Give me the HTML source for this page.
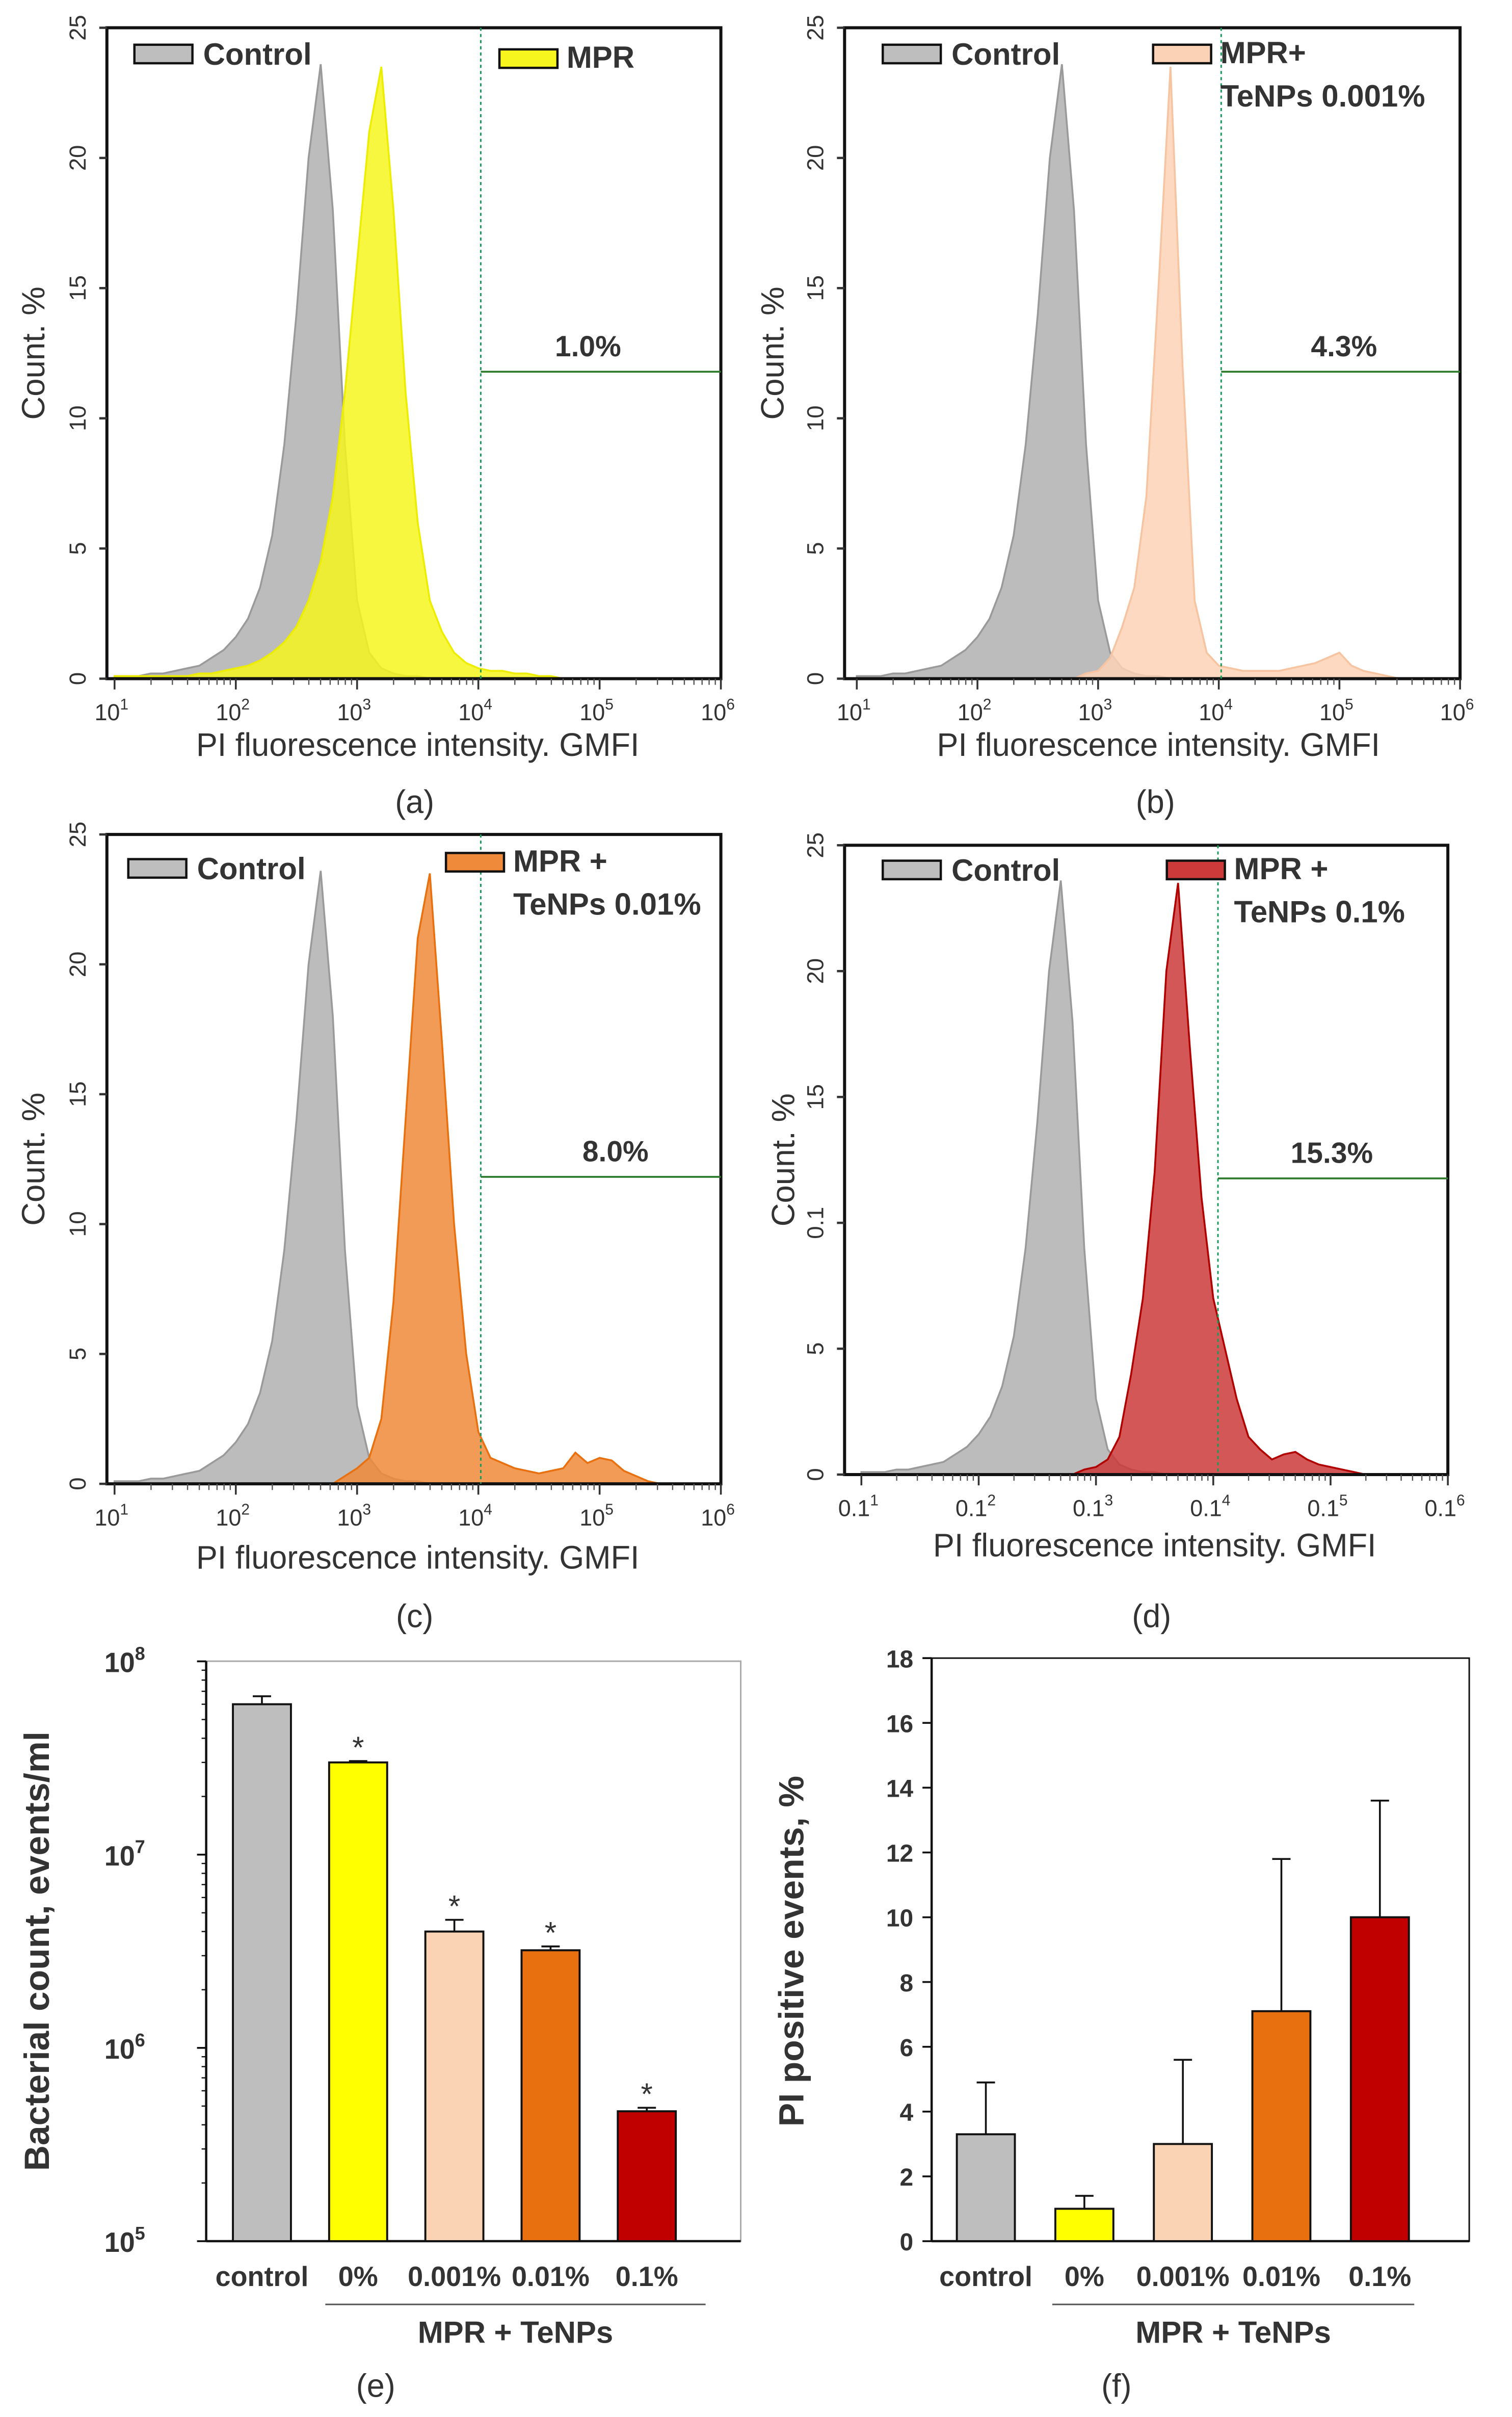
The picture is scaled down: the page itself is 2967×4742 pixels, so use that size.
<!DOCTYPE html>
<html><head><meta charset="utf-8"><style>
html,body{margin:0;padding:0;background:#fff}
svg{display:block}
text{font-family:"Liberation Sans",sans-serif;fill:#333}
.b{font-weight:bold}
</style></head><body>
<svg id="fig" xmlns="http://www.w3.org/2000/svg" width="2967" height="4742" viewBox="0 0 990 1567" preserveAspectRatio="none"></svg>
<script>
// histogram bins: log10 intensity from 1.0 to 6.0 step 0.1
const logBins=[];for(let i=0;i<=50;i++)logBins.push(1+i*0.1);
const controlA=[0.1,0.1,0.1,0.2,0.2,0.3,0.4,0.5,0.8,1.1,1.6,2.3,3.5,5.5,9,14,20,23.6,18,9,3,1,0.4,0.2,0.1,0.1,0,0,0,0,0,0,0,0,0,0,0,0,0,0,0,0,0,0,0,0,0,0,0,0,0];
const mprA=[0.1,0.1,0.1,0.1,0.1,0.1,0.1,0.2,0.2,0.3,0.4,0.5,0.7,1,1.4,2,3,4.5,7,11,16,21,23.5,18,11,6,3,1.8,1,0.6,0.4,0.3,0.3,0.2,0.2,0.1,0.1,0,0,0,0,0,0,0,0,0,0,0,0,0,0];
const peachB=[0,0,0,0,0,0,0,0,0,0,0,0,0,0,0,0,0,0,0,0.2,0.3,0.8,2,3.5,7,15,23.5,12,3,1,0.5,0.4,0.3,0.3,0.3,0.3,0.4,0.5,0.6,0.8,1.0,0.5,0.3,0.2,0.1,0,0,0,0,0,0];
const orangeC=[0,0,0,0,0,0,0,0,0,0,0,0,0,0,0,0,0,0,0,0.3,0.6,1,2.5,7,14,21,23.5,17,10,5,2,1,0.8,0.6,0.5,0.4,0.5,0.6,1.2,0.8,1,0.9,0.5,0.3,0.1,0,0,0,0,0,0];
const redD=[0,0,0,0,0,0,0,0,0,0,0,0,0,0,0,0,0,0,0,0.2,0.3,0.6,1.5,4,7,12,20,23.5,17,11,7,5,3,1.5,1,0.6,0.8,0.9,0.6,0.4,0.3,0.2,0.1,0,0,0,0,0,0,0,0];
// bar charts
const groups=["control","0%","0.001%","0.01%","0.1%"];
const countMean=[6.0e7,3.0e7,4.0e6,3.2e6,4.7e5];
const countErr=[6.6e7,3.05e7,4.6e6,3.35e6,4.9e5];
const countStar=[false,true,true,true,true];
const piMean=[3.3,1.0,3.0,7.1,10.0];
const piErr=[4.9,1.4,5.6,11.8,13.6];
const barColors=["#bebebe","#ffff00","#f9d3b4","#e8700f","#c00000"];
const yTicksHist=[0,5,10,15,20,25];
const yTicksHistD=["0","5","0.1","15","20","25"];
const yTicksPI=[0,2,4,6,8,10,12,14,16,18];

const NS="http://www.w3.org/2000/svg";
const svg=document.getElementById('fig');
function el(tag,attrs,parent,txt){const e=document.createElementNS(NS,tag);for(const k in attrs)e.setAttribute(k,attrs[k]);if(txt!==undefined)e.textContent=txt;(parent||svg).appendChild(e);return e;}

function hist(p){
  const g=el('g',{});
  
  
  const sx=v=>p.x0+(v-1)/5*(p.x1-p.x0);
  const sy=v=>p.yb-(v/25)*(p.yb-p.yt);
  function series(arr,fill,stroke,nm){
    let d='M'+sx(logBins[0])+','+sy(0);
    arr.forEach((v,i)=>{d+=' L'+sx(logBins[i]).toFixed(2)+','+sy(v).toFixed(2);});
    d+=' L'+sx(logBins[logBins.length-1])+','+sy(0)+' Z';
    const s=el('path',{d:d,fill:fill,'fill-opacity':0.85,stroke:stroke,'stroke-width':1.2},g);
    
    
  }
  series(p.ctrl,'#b0b0b0','#9a9a9a','control-histogram');
  series(p.data,p.fill,p.stroke,'treatment-histogram');
  const fr=el('rect',{x:p.bx0,y:p.yt,width:p.x1-p.bx0,height:p.yb-p.yt,fill:'none',stroke:'#111','stroke-width':2},g);
  
  
  p.yt_ticks.forEach((t,i)=>{
    const y=sy(t);
    el('line',{x1:p.bx0-5,x2:p.bx0,y1:y,y2:y,stroke:'#333','stroke-width':1.5},g);
    const tx=el('text',{x:p.bx0-14,y:y,'font-size':15,'text-anchor':'middle',transform:`rotate(-90 ${p.bx0-14} ${y})`},g,p.ylabels[i]);
    
    
  });
  for(let dcd=1;dcd<=6;dcd++){
    const x=sx(dcd);
    el('line',{x1:x,x2:x,y1:p.yb,y2:p.yb+7,stroke:'#333','stroke-width':1.2},g);
    if(dcd<6)for(let m=2;m<=9;m++){const xm=sx(dcd+Math.log10(m));el('line',{x1:xm,x2:xm,y1:p.yb,y2:p.yb+4,stroke:'#555','stroke-width':0.8},g);}
    const t=el('text',{x:x-2,y:p.yb+27,'font-size':15,'text-anchor':'middle'},g);
    
    
    el('tspan',{},t,p.base);
    el('tspan',{dy:-7,'font-size':10},t,String(dcd));
  }
  const gx=sx(p.gate);
  el('line',{x1:gx,x2:gx,y1:p.yt,y2:p.yb,stroke:'#1a9a5a','stroke-width':1,'stroke-dasharray':'2,2'},g);
  el('line',{x1:gx,x2:p.x1,y1:p.gy,y2:p.gy,stroke:'#2a7a2a','stroke-width':1.2},g);
  const pc=el('text',{x:p.pcx,y:p.gy-10,'font-size':19,'text-anchor':'middle',class:'b',fill:'#111'},g,p.pct);
  
  
  const yt=el('text',{x:p.ytx,y:(p.yt+p.yb)/2,'font-size':21,'text-anchor':'middle',transform:`rotate(-90 ${p.ytx} ${(p.yt+p.yb)/2})`},g,'Count. %');
  
  
  const xt=el('text',{x:(p.x0+p.x1)/2,y:p.xty,'font-size':21,'text-anchor':'middle'},g,'PI fluorescence intensity. GMFI');
  
  
  const lb=el('text',{x:(p.x0+p.x1)/2-2,y:p.lby,'font-size':21,'text-anchor':'middle','font-family':'Liberation Serif, serif',fill:'#111'},g,p.label);
  
  
  const l1=el('rect',{x:p.l1[0],y:p.l1[1],width:38,height:12,fill:'#bebebe',stroke:'#111','stroke-width':1.5},g);
  
  
  const lt1=el('text',{x:p.l1[0]+45,y:p.l1[1]+13,'font-size':20,class:'b'},g,'Control');
  
  
  const l2=el('rect',{x:p.l2[0],y:p.l2[1],width:38,height:12,fill:p.fill,stroke:'#111','stroke-width':1.5},g);
  
  
  p.ltext.forEach((s,i)=>{
    const t=el('text',{x:p.l2[0]+44,y:p.l2[1]+12+i*28,'font-size':20,class:'b'},g,s);
    
    
  });
}

hist({name:'panel-a',ctrl:controlA,data:mprA,fill:'#f6f61e',stroke:'#eded00',x0:75,x1:472,bx0:70,yt:18,yb:440,yt_ticks:yTicksHist,ylabels:yTicksHist.map(String),base:'10',gate:4.02,gy:241,pct:'1.0%',pcx:385,ytx:29,xty:490,lby:527,label:'(a)',l1:[88,29],l2:[327,32],ltext:['MPR']});
hist({name:'panel-b',ctrl:controlA,data:peachB,fill:'#fbd2b5',stroke:'#f6c4a0',x0:561,x1:956,bx0:553,yt:18,yb:440,yt_ticks:yTicksHist,ylabels:yTicksHist.map(String),base:'10',gate:4.02,gy:241,pct:'4.3%',pcx:880,ytx:513,xty:490,lby:527,label:'(b)',l1:[578,29],l2:[755,29],ltext:['MPR+','TeNPs 0.001%']});
hist({name:'panel-c',ctrl:controlA,data:orangeC,fill:'#ef8a3a',stroke:'#e8700f',x0:75,x1:472,bx0:70,yt:541,yb:962,yt_ticks:yTicksHist,ylabels:yTicksHist.map(String),base:'10',gate:4.02,gy:763,pct:'8.0%',pcx:403,ytx:29,xty:1017,lby:1055,label:'(c)',l1:[84,557],l2:[292,553],ltext:['MPR +','TeNPs 0.01%']});
hist({name:'panel-d',ctrl:controlA,data:redD,fill:'#cc3a3a',stroke:'#b00000',x0:564,x1:948,bx0:553,yt:548,yb:956,yt_ticks:yTicksHist,ylabels:yTicksHistD,base:'0.1',gate:4.04,gy:764,pct:'15.3%',pcx:872,ytx:520,xty:1009,lby:1055,label:'(d)',l1:[578,558],l2:[764,558],ltext:['MPR +','TeNPs 0.1%']});

function bars(p){
  const g=el('g',{});
  
  
  const sy=p.sy;
  const fr=el('rect',{x:p.x0,y:p.yt,width:p.x1-p.x0,height:p.yb-p.yt,fill:'none',stroke:p.frame,'stroke-width':1},g);
  
  
  el('line',{x1:p.x0,x2:p.x0,y1:p.yt,y2:p.yb,stroke:'#111','stroke-width':1.5},g);
  el('line',{x1:p.x0,x2:p.x1,y1:p.yb,y2:p.yb,stroke:'#111','stroke-width':1.5},g);
  p.ticks(g);
  groups.forEach((c,i)=>{
    const cx=p.cx0+i*p.step, w=38;
    const top=sy(p.mean[i]), et=sy(p.err[i]);
    el('line',{x1:cx,x2:cx,y1:et,y2:top,stroke:'#111','stroke-width':1.2},g);
    el('line',{x1:cx-6,x2:cx+6,y1:et,y2:et,stroke:'#111','stroke-width':1.2},g);
    const r=el('rect',{x:cx-w/2,y:top,width:w,height:p.yb-top,fill:barColors[i],stroke:'#111','stroke-width':1.3},g);
    
    
    if(p.star&&p.star[i]){const s=el('text',{x:cx,y:et-2,'font-size':20,'text-anchor':'middle',fill:'#111'},g,'*');
      
      }
    const t=el('text',{x:cx,y:p.yb+29,'font-size':18,'text-anchor':'middle',class:'b'},g,c);
    
    
  });
  el('line',{x1:p.lx0,x2:p.lx1,y1:p.yb+41,y2:p.yb+41,stroke:'#555','stroke-width':1},g);
  const gt=el('text',{x:(p.lx0+p.lx1)/2,y:p.yb+66,'font-size':20,'text-anchor':'middle',class:'b'},g,'MPR + TeNPs');
  
  
  const yt=el('text',{x:p.ytx,y:1265,'font-size':23,'text-anchor':'middle',class:'b',transform:`rotate(-90 ${p.ytx} 1265)`},g,p.ytitle);
  
  
  const lb=el('text',{x:p.lbx,y:1554,'font-size':21,'text-anchor':'middle','font-family':'Liberation Serif, serif',fill:'#111'},g,p.label);
  
  
}
const syE=v=>1453-(Math.log10(v)-5)*125.3;
bars({name:'panel-e',x0:135,x1:485,yt:1077,yb:1453,frame:'#aaa',sy:syE,mean:countMean,err:countErr,star:countStar,cx0:171.5,step:63,lx0:213,lx1:462,ytx:32,ytitle:'Bacterial count, events/ml',lbx:246,label:'(e)',
 ticks:g=>{for(let d=5;d<=8;d++){const y=syE(Math.pow(10,d));el('line',{x1:129,x2:135,y1:y,y2:y,stroke:'#111','stroke-width':1.2},g);
  const t=el('text',{x:95,y:y+7,'font-size':18,'text-anchor':'end',class:'b'},g);
  
  
  el('tspan',{},t,'10');el('tspan',{dy:-8,'font-size':12},t,String(d));
  if(d<8)for(let m=2;m<=9;m++){const ym=syE(m*Math.pow(10,d));el('line',{x1:132,x2:135,y1:ym,y2:ym,stroke:'#111','stroke-width':0.8},g);}}}});
const syF=v=>1453-v*21;
bars({name:'panel-f',x0:610,x1:962,yt:1075,yb:1453,frame:'#111',sy:syF,mean:piMean,err:piErr,star:null,cx0:645.5,step:64.5,lx0:689,lx1:926,ytx:526,ytitle:'PI positive events, %',lbx:731,label:'(f)',
 ticks:g=>{yTicksPI.forEach(v=>{const y=syF(v);el('line',{x1:604,x2:610,y1:y,y2:y,stroke:'#111','stroke-width':1.2},g);
  const t=el('text',{x:598,y:y+6,'font-size':16,'text-anchor':'end',class:'b'},g,String(v));
  
  });}});
</script>
</body></html>
